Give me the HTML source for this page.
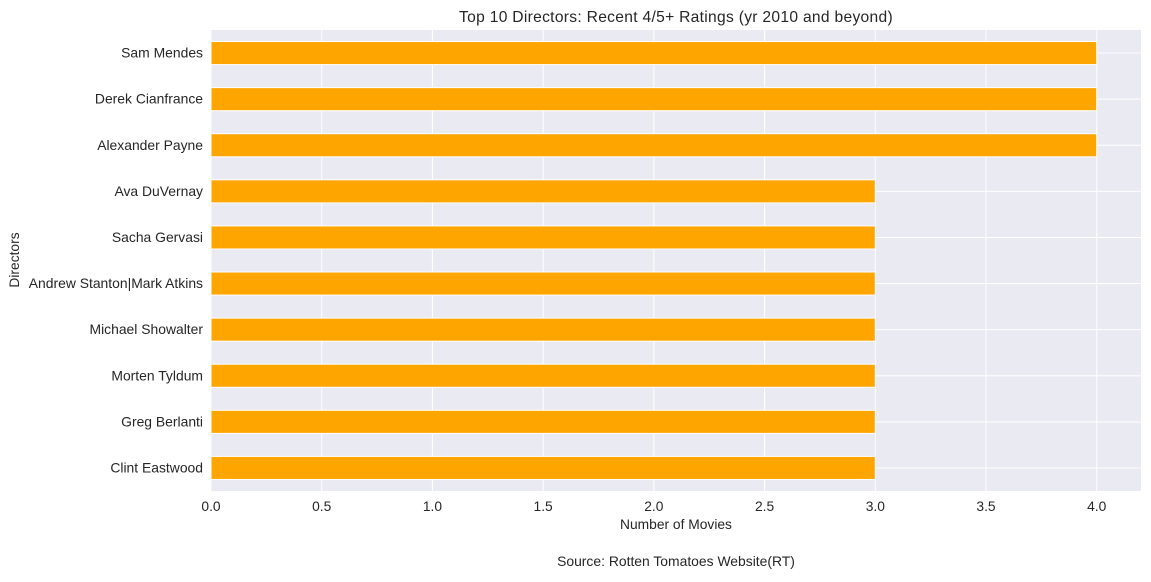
<!DOCTYPE html>
<html><head><meta charset="utf-8"><style>
body{margin:0;background:#fff;}
svg text{font-family:"Liberation Sans","DejaVu Sans",sans-serif;fill:#262626;}
</style></head><body>
<svg id="chart" width="1151" height="577" xmlns="http://www.w3.org/2000/svg">
<rect x="0" y="0" width="1151" height="577" fill="#fff"/>
<rect x="211" y="30" width="930" height="461" fill="#eaeaf2"/>
<g id="grid"></g><g id="bars"></g><g id="xticks"></g><g id="yticks"></g>
<text x="676" y="22" font-size="15.6" letter-spacing="0.3" text-anchor="middle">Top 10 Directors: Recent 4/5+ Ratings (yr 2010 and beyond)</text>
<text x="676" y="529" font-size="13.8" text-anchor="middle">Number of Movies</text>
<text transform="translate(19,260) rotate(-90)" font-size="13.8" text-anchor="middle">Directors</text>
<text x="676" y="566" font-size="13.9" text-anchor="middle">Source: Rotten Tomatoes Website(RT)</text>
</svg>
<script>
const directors=["Sam Mendes","Derek Cianfrance","Alexander Payne","Ava DuVernay","Sacha Gervasi","Andrew Stanton|Mark Atkins","Michael Showalter","Morten Tyldum","Greg Berlanti","Clint Eastwood"];
const counts=[4,4,4,3,3,3,3,3,3,3];
const xTicks=[0,0.5,1,1.5,2,2.5,3,3.5,4];
const NS="http://www.w3.org/2000/svg";
const L=211,R=1141,T=30,B=491,XMAX=4.2;
const xs=v=>L+(R-L)*v/XMAX;
const band=(B-T)/directors.length;
const yc=i=>T+band*(i+0.5);
function mk(tag,attrs,parent){const e=document.createElementNS(NS,tag);for(const k in attrs)e.setAttribute(k,attrs[k]);document.getElementById(parent).appendChild(e);return e;}
xTicks.forEach(t=>{
 const g=mk('line',{x1:xs(t),x2:xs(t),y1:T,y2:B,stroke:'#fff','stroke-width':1},'grid');
 
 
 const tx=mk('text',{x:xs(t),y:B+20,'font-size':13.8,'text-anchor':'middle'},'xticks');
 tx.textContent=t.toFixed(1);
 
 
});
directors.forEach((d,i)=>{
 const g=mk('line',{x1:L,x2:R,y1:yc(i),y2:yc(i),stroke:'#fff','stroke-width':1},'grid');
 
 
 const b=mk('rect',{x:L,y:yc(i)-band/4,width:xs(counts[i])-L,height:band/2,fill:'#ffa500',stroke:'#fff','stroke-width':1},'bars');
 
 
 const tx=mk('text',{x:L-8,y:yc(i)+4.5,'font-size':13.9,'text-anchor':'end'},'yticks');
 tx.textContent=d;
 
 
});
</script>
</body></html>
